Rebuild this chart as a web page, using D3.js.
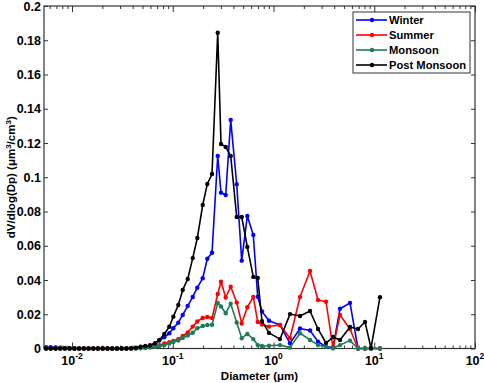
<!DOCTYPE html>
<html><head><meta charset="utf-8">
<script src="https://cdn.jsdelivr.net/npm/d3@7"></script>
<style>
html,body{margin:0;padding:0;background:#fff;}
svg text{font-family:"Liberation Sans",Arial,sans-serif;font-weight:bold;fill:#000;}
</style></head>
<body><svg id="c" width="484" height="383"></svg>
<script>
// Particle diameters (µm)
const diameters = [0.00552,0.00614,0.00686,0.00764,0.00850,0.00947,0.01056,0.01176,0.01310,0.01458,
  0.01627,0.01812,0.02017,0.02251,0.02506,0.02791,0.03107,0.03467,0.03861,0.04298,
  0.04785,0.05339,0.05944,0.0666,0.0735,0.0824,0.0924,0.1013,0.1135,0.1255,
  0.1407,0.1578,0.1752,0.1983,0.2203,0.2453,0.2794,0.3012,0.3354,0.3760,
  0.4313,0.4835,0.5495,0.6300,0.6969,0.7686,0.9023,1.160,1.458,1.832,
  2.303,2.765,3.319,3.896,4.571,5.744,6.898,8.093,9.285,11.40];
const winter = [0.0008,0.0008,0.0006,0.0004,0.0003,0.0002,0,0,0,0,
  0,0,0,0,0,0,0,0,0,0.0002,
  0.0005,0.001,0.0019,0.003,0.0046,0.0065,0.0089,0.0118,0.0151,0.0196,
  0.0248,0.0301,0.0355,0.041,0.0524,0.0559,0.1124,0.091,0.0896,0.1334,
  0.0959,0.0513,0.0774,0.0663,0.0302,0.0216,0.0162,0.0137,0.003,0.0117,
  0.0105,0.004,0.001,0.0007,0.0232,0.0266,0,0,0,0];
const summer = [0,0,0,0,0,0,0,0,0,0,
  0,0,0,0,0,0,0,0,0,0.0001,
  0.0003,0.0006,0.001,0.0015,0.0019,0.0029,0.0037,0.0044,0.0055,0.0073,
  0.0093,0.0128,0.0158,0.0178,0.0184,0.0178,0.0318,0.039,0.0298,0.0361,
  0.0269,0.0146,0.0241,0.0301,0.0155,0.014,0.0128,0.0137,0.006,0.0301,
  0.0453,0.0283,0.0273,0.0003,0.0196,0.0114,0,0,0,0];
const monsoon = [0,0,0,0,0,0,0,0,0,0,
  0,0,0,0,0,0,0,0,0,0,
  0.0001,0.0003,0.0006,0.001,0.0013,0.002,0.0029,0.0038,0.0047,0.0061,
  0.0076,0.0092,0.0118,0.0131,0.0137,0.0139,0.0266,0.0245,0.0206,0.0262,
  0.0152,0.006,0.0085,0.0055,0.002,0.0015,0.0016,0.002,0.0005,0.0089,
  0.005,0.002,0.001,0.0001,0.002,0.0046,0,0,0,0];
const postMonsoon = [0,0,0,0,0,0,0,0,0,0,
  0,0,0,0,0,0,0,0,0.0002,0.0005,
  0.001,0.0015,0.0017,0.003,0.005,0.0085,0.0127,0.0186,0.0254,0.0342,
  0.0406,0.0528,0.0645,0.0838,0.0961,0.1019,0.1844,0.1194,0.1177,0.1124,
  0.0768,0.0768,0.0593,0.0418,0.0412,0.016,0.0091,0.0055,0.0201,0.019,
  0.0219,0.0114,0.0032,0.0067,0.005,0.0126,0.0114,0.0155,0.0003,0.030];
const seriesNames = ["Winter","Summer","Monsoon","Post Monsoon"];
const seriesColors = ["#0000ff","#ff0000","#1e7b55","#000000"];
const yTicks = [0,0.02,0.04,0.06,0.08,0.1,0.12,0.14,0.16,0.18,0.2];
const yTickLabels = ["0","0.02","0.04","0.06","0.08","0.1","0.12","0.14","0.16","0.18","0.2"];
const xMajor = [0.01,0.1,1,10,100];
const xExponents = ["-2","-1","0","1","2"];

const allSeries = [winter, summer, monsoon, postMonsoon];
const L=44, R=475, T=6, B=348.5;
const svg = d3.select("#c");
const x = d3.scaleLog().domain([0.00527,100]).range([L,R]);
const y = d3.scaleLinear().domain([0,0.2]).range([B,T]);
const axisColor = "#333";

// frame
svg.append("rect").attr("x",L).attr("y",T).attr("width",R-L).attr("height",B-T)
  .attr("fill","#fff").attr("stroke",axisColor).attr("stroke-width",1.2);

// x ticks (minor + major), bottom and top, inward
const allX = x.ticks().filter(v=>v>=x.domain()[0] && v<=100);
const isMajor = v => xMajor.some(m=>Math.abs(m-v)/m<1e-6);
function styleAxis(g){ g.select(".domain").remove(); g.selectAll("line").attr("stroke",axisColor); }
const xb = svg.append("g").attr("transform",`translate(0,${B})`)
  .call(d3.axisBottom(x).tickValues(allX).tickFormat("").tickSizeInner(-3).tickSizeOuter(0));
xb.selectAll(".tick line").attr("y2",d=>isMajor(d)?-6:-3);
styleAxis(xb);
const xt = svg.append("g").attr("transform",`translate(0,${T})`)
  .call(d3.axisTop(x).tickValues(allX).tickFormat("").tickSizeInner(-3).tickSizeOuter(0));
xt.selectAll(".tick line").attr("y2",d=>isMajor(d)?6:3);
styleAxis(xt);

// x labels
xMajor.forEach((v,i)=>{
  const t = svg.append("text").attr("x",x(v)).attr("y",365).attr("text-anchor","middle")
    .attr("font-size","12.5px");
  t.append("tspan").text("10");
  t.append("tspan").attr("dy","-6").attr("font-size","8.5px").text(xExponents[i]);
});

// y ticks left and right
const yl = svg.append("g").attr("transform",`translate(${L},0)`)
  .call(d3.axisLeft(y).tickValues(yTicks).tickFormat("").tickSizeInner(-4).tickSizeOuter(0));
styleAxis(yl);
const yr = svg.append("g").attr("transform",`translate(${R},0)`)
  .call(d3.axisRight(y).tickValues(yTicks).tickFormat("").tickSizeInner(-4).tickSizeOuter(0));
styleAxis(yr);
yTicks.forEach((v,i)=>{
  svg.append("text").attr("x",41).attr("y",y(v)+4.5).attr("text-anchor","end")
    .attr("font-size","12.5px").text(yTickLabels[i]);
});

// axis titles
svg.append("text").attr("x",(L+R)/2).attr("y",380).attr("text-anchor","middle")
  .attr("font-size","11.5px").text("Diameter (\u03bcm)");
const yt = svg.append("text").attr("transform",`translate(15,${(T+B)/2}) rotate(-90)`)
  .attr("text-anchor","middle").attr("font-size","11.5px");
yt.append("tspan").text("dV/dlog(Dp) (\u03bcm");
yt.append("tspan").attr("dy","-4").attr("font-size","8px").text("3");
yt.append("tspan").attr("dy","4").text("/cm");
yt.append("tspan").attr("dy","-4").attr("font-size","8px").text("3");
yt.append("tspan").attr("dy","4").text(")");

// series
const line = d3.line().x((d,i)=>x(diameters[i])).y(d=>y(d));
allSeries.forEach((s,k)=>{
  const g = svg.append("g");
  g.append("path").datum(s).attr("d",line).attr("fill","none")
    .attr("stroke",seriesColors[k]).attr("stroke-width",1.6).attr("stroke-linejoin","round");
  g.selectAll("circle").data(s).join("circle")
    .attr("cx",(d,i)=>x(diameters[i])).attr("cy",d=>y(d)).attr("r",2.2)
    .attr("fill",seriesColors[k]);
});

// legend
const lg = svg.append("g");
lg.append("rect").attr("x",353).attr("y",12).attr("width",117).attr("height",61)
  .attr("fill","#fff").attr("stroke",axisColor).attr("stroke-width",1);
seriesNames.forEach((n,k)=>{
  const yy = 20 + k*15;
  lg.append("line").attr("x1",356).attr("x2",387).attr("y1",yy).attr("y2",yy)
    .attr("stroke",seriesColors[k]).attr("stroke-width",1.6);
  lg.append("circle").attr("cx",372).attr("cy",yy).attr("r",2.2).attr("fill",seriesColors[k]);
  lg.append("text").attr("x",389).attr("y",yy+4).attr("font-size","11.2px").text(n);
});
</script></body></html>
